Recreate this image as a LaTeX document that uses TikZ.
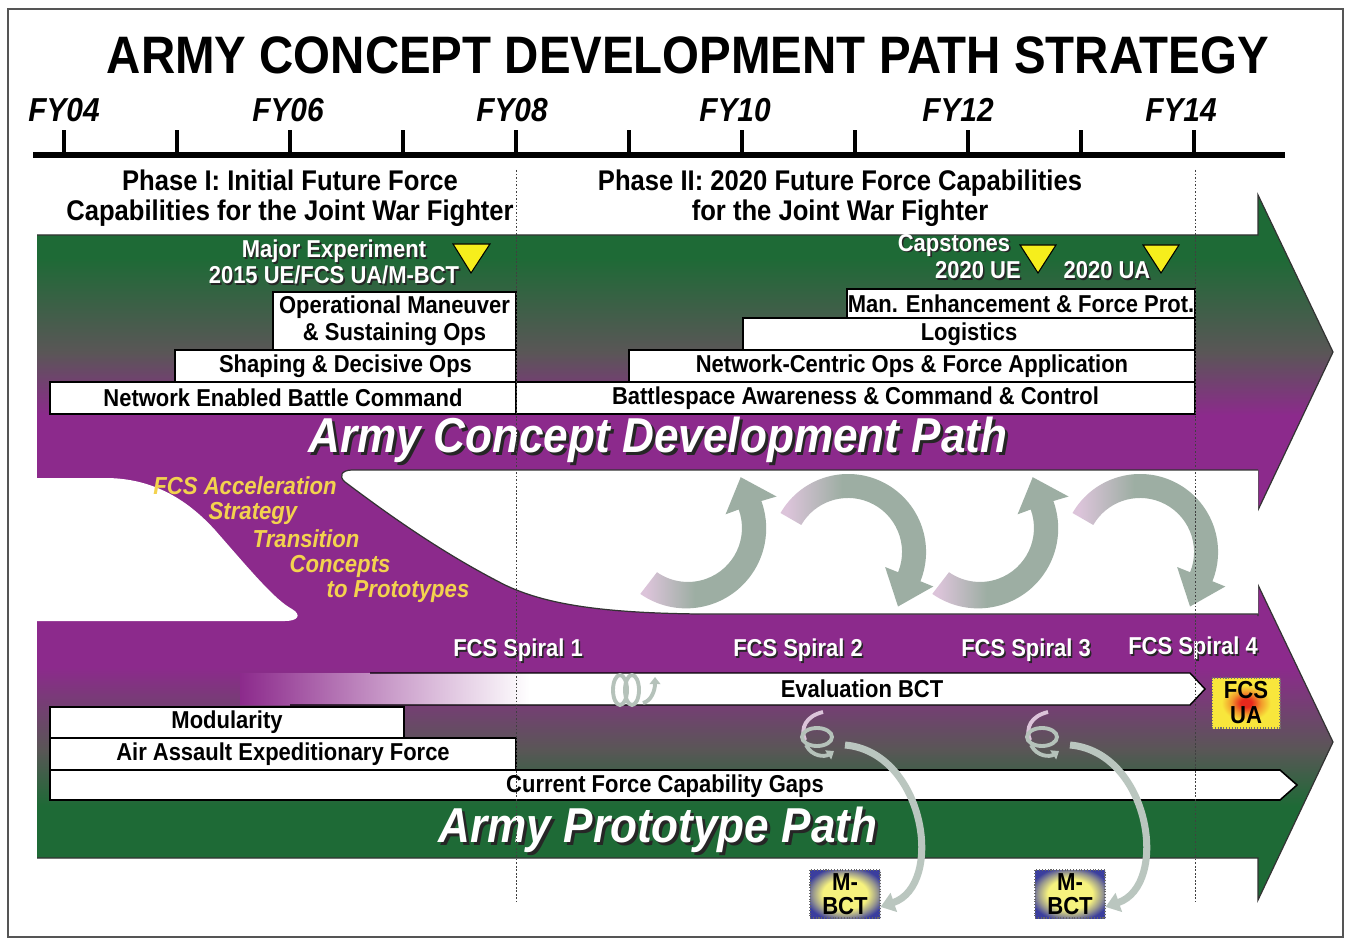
\documentclass[tikz,border=0pt]{standalone}
\usepackage{fontspec}
\setmainfont{Liberation Sans}[FakeStretch=0.9]
\usetikzlibrary{arrows.meta}

\definecolor{pathgreen}{HTML}{1E6A36}
\definecolor{pathgray}{HTML}{5A5657}
\definecolor{pathpurple}{HTML}{8C2A8C}
\definecolor{accelyellow}{HTML}{F3D24E}
\definecolor{markyellow}{HTML}{F6EE1C}
\definecolor{ribbonpink}{HTML}{DCC4DA}
\definecolor{ribbongreen}{HTML}{9DAEA3}
\definecolor{mbctblue}{HTML}{3B3E9E}
\definecolor{mbctyellow}{HTML}{F6F27E}
\definecolor{uared}{HTML}{E8281C}
\definecolor{uaorange}{HTML}{F29A2C}
\definecolor{uayellow}{HTML}{F8E63C}
\definecolor{framegray}{HTML}{555555}
\definecolor{shadowgray}{HTML}{262626}

\pgfdeclareverticalshading{conceptshade}{100bp}{color(0bp)=(pathpurple); color(40bp)=(pathpurple); color(50bp)=(pathgray); color(65bp)=(pathgreen); color(100bp)=(pathgreen)}
\pgfdeclareverticalshading{prototypeshade}{100bp}{color(0bp)=(pathgreen); color(40bp)=(pathgreen); color(49bp)=(pathgray); color(62bp)=(pathpurple); color(100bp)=(pathpurple)}
\pgfdeclarehorizontalshading{evalshade}{100bp}{color(0bp)=(pathpurple); color(25bp)=(pathpurple); color(33bp)=(pathpurple!45!white); color(40bp)=(white); color(100bp)=(white)}
\pgfdeclarehorizontalshading{ribbonshade}{100bp}{color(0bp)=(ribbonpink); color(27bp)=(ribbonpink); color(45bp)=(ribbongreen); color(100bp)=(ribbongreen)}
\pgfdeclareradialshading{mbctshade}{\pgfpoint{0bp}{0bp}}{color(0bp)=(mbctyellow); color(16bp)=(mbctyellow); color(23bp)=(mbctblue!50!mbctyellow); color(29bp)=(mbctblue); color(50bp)=(mbctblue)}
\pgfdeclareradialshading{uashade}{\pgfpoint{0bp}{0bp}}{color(0bp)=(uared); color(4bp)=(uared); color(11bp)=(uaorange); color(18bp)=(uayellow); color(50bp)=(uayellow)}

\newcommand{\shadowed}[1]{\leavevmode\rlap{\kern0.9pt\raisebox{-0.9pt}{\textcolor{shadowgray}{#1}}}#1}
\newcommand{\deepshadowed}[1]{\leavevmode\rlap{\kern1.7pt\raisebox{-1.7pt}{\textcolor{shadowgray}{#1}}}#1}

\begin{document}
\begin{tikzpicture}[x=0.02cm,y=-0.02cm]
\tikzset{
  capbox/.style={draw=black,fill=white,line width=0.9pt,inner sep=0pt,align=center,font=\fontsize{13.9}{15.4}\selectfont\bfseries},
  yearlabel/.style={font=\fontsize{18.9}{22}\selectfont\bfseries\itshape,inner sep=0pt},
  phaselabel/.style={font=\fontsize{16.2}{17}\selectfont\bfseries,align=center,inner sep=0pt},
  whitelabel/.style={text=white,font=\fontsize{13.9}{14.8}\selectfont\bfseries,align=center,inner sep=0pt},
  pathtitle/.style={text=white,font=\fontsize{27.9}{32}\selectfont\bfseries\itshape,inner sep=0pt},
  accellabel/.style={text=accelyellow,font=\fontsize{14}{16}\selectfont\bfseries\itshape,inner sep=0pt},
  milestone/.style={draw=black,fill=markyellow,line width=0.6pt},
  pathedge/.style={draw=black!80,line width=0.7pt},
  helixline/.style={draw=ribbongreen!75!white,line width=2.2pt},
  mbctlink/.style={draw=ribbongreen!70!white,line width=4pt,-{Triangle[width=11pt,length=8pt]}},
  uabox/.style={minimum width=1.36cm,minimum height=1.0cm,inner sep=0pt,shading=uashade,draw=black!55,densely dotted,line width=0.6pt,align=center,font=\fontsize{14}{14.2}\selectfont\bfseries},
  mbctbox/.style={minimum width=1.4cm,minimum height=0.96cm,inner sep=0pt,shading=mbctshade,draw=black!60,densely dotted,line width=0.6pt,align=center,font=\fontsize{14}{13.7}\selectfont\bfseries},
  phaseline/.style={dash pattern=on 1pt off 1pt,line width=0.5pt,draw=black!75}
}
% canvas and frame
\fill[white] (0,0) rectangle (1351,942);
\draw[framegray,line width=1.2pt] (8,9) rectangle (1343,937);

% title and time line
\node[font=\fontsize{30}{34}\selectfont\bfseries] (n_title) at (688,55) {ARMY CONCEPT DEVELOPMENT PATH STRATEGY};
\draw[line width=3.4pt] (33,155) -- (1285,155);
\foreach \tx in {64,177,...,1194}
  \draw[line width=2.8pt] (\tx,156) -- (\tx,130);
\node[yearlabel] (n_fy04) at (64,110) {FY04};
\node[yearlabel] (n_fy06) at (288,110) {FY06};
\node[yearlabel] (n_fy08) at (512,110) {FY08};
\node[yearlabel] (n_fy10) at (735,110) {FY10};
\node[yearlabel] (n_fy12) at (958,110) {FY12};
\node[yearlabel] (n_fy14) at (1181,110) {FY14};
\node[phaselabel] (n_phase_i) at (290,198) {Phase I: Initial Future Force\\Capabilities for the Joint War Fighter};
\node[phaselabel] (n_phase_ii) at (840,198) {Phase II: 2020 Future Force Capabilities\\for the Joint War Fighter};

% purple transition band and the two paths
\fill[pathpurple] (37,464) rectangle (1258,624);
\shade[shading=conceptshade] (37,235) -- (1258,235) -- (1258,195) -- (1333,352) -- (1258,510) -- (1258,468) -- (37,468) -- cycle;
\draw[pathedge] (37,235) -- (1258,235) -- (1258,195) -- (1333,352) -- (1258,510) -- (1258,470);
\shade[shading=prototypeshade] (37,620) -- (1258,620) -- (1258,585) -- (1333,742) -- (1258,900) -- (1258,858) -- (37,858) -- cycle;
\draw[pathedge] (1258,616) -- (1258,585) -- (1333,742) -- (1258,900) -- (1258,858) -- (37,858);
\fill[white] (37,478) -- (105,478) .. controls (150,478) and (185,497) .. (215,530)
  .. controls (250,570) and (275,600) .. (292,609) .. controls (302,615) and (298,621) .. (285,621) -- (37,621) -- cycle;
\fill[white] (352,470) -- (1258,470) -- (1258,614) -- (700,614) .. controls (600,613) and (545,604) .. (505,585)
  .. controls (440,552) and (385,512) .. (345,482) .. controls (338,476) and (342,470) .. (352,470) -- cycle;
\draw[pathedge] (1258,470) -- (352,470) .. controls (342,470) and (338,476) .. (345,482)
  .. controls (385,512) and (440,552) .. (505,585) .. controls (545,604) and (600,613) .. (700,614) -- (1258,614);

% concept path contents
\node[whitelabel] (n_major) at (334,263) {\shadowed{Major Experiment}\\\shadowed{2015 UE/FCS UA/M-BCT}};
\draw[milestone] (453,244) -- (490,244) -- (471,273) -- cycle;
\node[whitelabel] (n_capstones) at (954,246) {\shadowed{Capstones}};
\node[whitelabel] (n_ue2020) at (978,271) {\shadowed{2020 UE}};
\node[whitelabel] (n_ua2020) at (1107,271) {\shadowed{2020 UA}};
\draw[milestone] (1020,245) -- (1056,245) -- (1038,273) -- cycle;
\draw[milestone] (1143,245) -- (1179,245) -- (1161,273) -- cycle;
\node[capbox,minimum width=4.86cm,minimum height=1.16cm] (n_opman) at (394.5,321) {Operational Maneuver\\\& Sustaining Ops};
\node[capbox,minimum width=6.82cm,minimum height=0.64cm] (n_shaping) at (345.5,366) {Shaping \& Decisive Ops};
\node[capbox,minimum width=9.32cm,minimum height=0.64cm] (n_nebc) at (283,398) {Network Enabled Battle Command};
\node[capbox,minimum width=6.96cm,minimum height=0.58cm] (n_manenh) at (1021,303.5) {Man. Enhancement \& Force Prot.};
\node[capbox,minimum width=9.04cm,minimum height=0.64cm] (n_logistics) at (969,334) {Logistics};
\node[capbox,minimum width=11.32cm,minimum height=0.64cm] (n_netcentric) at (912,366) {Network-Centric Ops \& Force Application};
\node[capbox,minimum width=13.58cm,minimum height=0.64cm] (n_battlespace) at (855.5,398) {Battlespace Awareness \& Command \& Control};
\node[pathtitle] (n_concept_path) at (658,441) {\deepshadowed{Army Concept Development Path}};

% transition texts
\node[accellabel] (n_accel_a) at (245,486) {FCS Acceleration};
\node[accellabel] (n_accel_b) at (253,513) {Strategy};
\node[accellabel] (n_accel_c) at (306,539) {Transition};
\node[accellabel] (n_accel_d) at (340,566) {Concepts};
\node[accellabel] (n_accel_e) at (398,592) {to Prototypes};

% spiral cycle ribbons
\foreach \dx in {0,292} {
  \begin{scope}[shift={(\dx,0)}]
    \shade[shading=ribbonshade] (640.3,593.9) arc[start angle=125,end angle=-20,radius=80]
      -- (776.5,496.5) -- (740.7,477.2) -- (725.6,514.3) -- (738.7,509.5)
      arc[start angle=-20,end angle=125,radius=54] -- cycle;
    \shade[shading=ribbonshade] (780.5,513.0) arc[start angle=-150,end angle=22,radius=78]
      -- (933.3,586.5) -- (898.0,606.5) -- (885.1,567.0) -- (898.1,572.2)
      arc[start angle=22,end angle=-150,radius=54] -- cycle;
  \end{scope}
}

% prototype path contents
\node[whitelabel] (n_spiral_1) at (518,651) {\shadowed{FCS Spiral 1}};
\node[whitelabel] (n_spiral_2) at (798,651) {\shadowed{FCS Spiral 2}};
\node[whitelabel] (n_spiral_3) at (1026,651) {\shadowed{FCS Spiral 3}};
\node[whitelabel] (n_spiral_4) at (1193,649) {\shadowed{FCS Spiral 4}};
\shade[shading=evalshade] (240,673) -- (1190,673) -- (1205,689) -- (1190,705) -- (240,705) -- cycle;
\draw[line width=0.8pt] (370,673) -- (1190,673) -- (1205,689) -- (1190,705) -- (290,705);
\node[font=\fontsize{13.9}{15}\selectfont\bfseries] (n_evalbct) at (862,689) {Evaluation BCT};
\draw[helixline] (620,690) ellipse[x radius=7,y radius=15];
\draw[helixline] (632,690) ellipse[x radius=7,y radius=15];
\draw[helixline,-{Triangle[width=6pt,length=4pt]}] (643,703) .. controls (651,701) and (655,691) .. (655,677);
\node[capbox,minimum width=7.08cm,minimum height=0.62cm] (n_modularity) at (227,722.5) {Modularity};
\node[capbox,minimum width=9.32cm,minimum height=0.64cm] (n_airassault) at (283,754) {Air Assault Expeditionary Force};
\draw[fill=white,line width=0.9pt] (50,770) -- (1280,770) -- (1297,785) -- (1280,800) -- (50,800) -- cycle;
\node[font=\fontsize{13.9}{15}\selectfont\bfseries] (n_gaps) at (665,786) {Current Force Capability Gaps};
\node[pathtitle] (n_proto_path) at (658,831) {\deepshadowed{Army Prototype Path}};
\node[uabox] (n_fcs_ua) at (1246,703) {FCS\\UA};

% spirals out to the M-BCTs
\draw[helixline,draw=ribbonpink] (823,712) .. controls (806,716) and (800,728) .. (805,740);
\draw[helixline] (817,737) ellipse[x radius=15,y radius=9];
\draw[helixline,-{Triangle[width=6pt,length=4pt]}] (806,745) .. controls (812,757) and (825,757) .. (834,751);
\draw[helixline,draw=ribbonpink] (1048,712) .. controls (1031,716) and (1025,728) .. (1030,740);
\draw[helixline] (1042,737) ellipse[x radius=15,y radius=9];
\draw[helixline,-{Triangle[width=6pt,length=4pt]}] (1031,745) .. controls (1037,757) and (1050,757) .. (1059,751);
\coordinate (n_helix_b) at (845,745);
\coordinate (n_helix_c) at (1070,745);
\node[mbctbox] (n_mbct_b) at (845,894) {M-\\BCT};
\node[mbctbox] (n_mbct_c) at (1070,894) {M-\\BCT};
\draw[mbctlink] (n_helix_b) .. controls (925,752) and (945,885) .. (n_mbct_b.-20);
\draw[mbctlink] (n_helix_c) .. controls (1150,752) and (1170,885) .. (n_mbct_c.-20);

% phase boundaries
\draw[phaseline] (516,170) -- (516,902);
\draw[phaseline] (1195,170) -- (1195,902);
\end{tikzpicture}
\end{document}
